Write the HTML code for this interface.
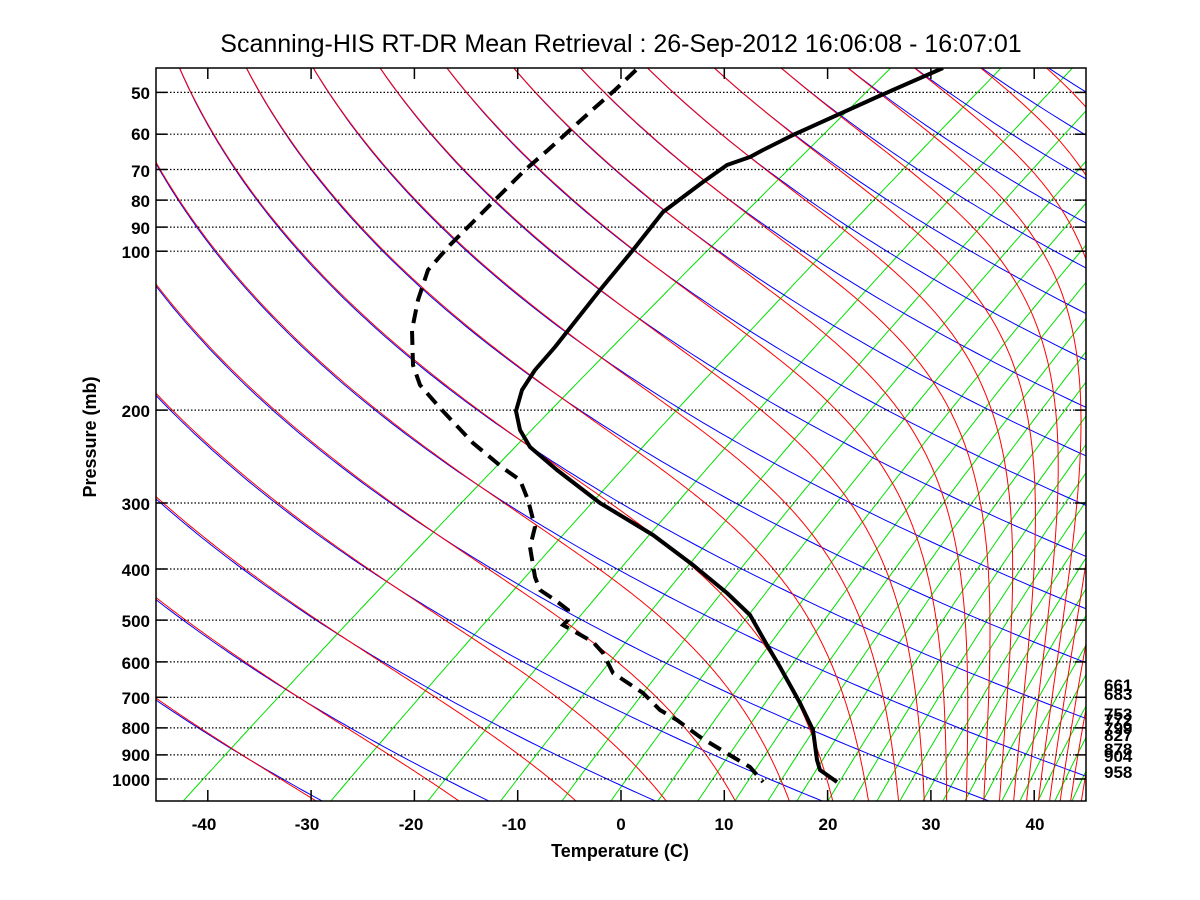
<!DOCTYPE html>
<html><head><meta charset="utf-8"><style>
html,body{margin:0;padding:0;background:#fff;}
svg{display:block;font-family:"Liberation Sans",Arial,sans-serif;}
.t{font-size:17px;font-weight:bold;fill:#000;}
</style></head><body>
<svg id="s" width="1200" height="900" viewBox="0 0 1200 900" xmlns="http://www.w3.org/2000/svg">
<defs><clipPath id="c"><rect x="156" y="68" width="930" height="733"/></clipPath></defs>
<rect width="1200" height="900" fill="#fff"/>
<g id="lines" clip-path="url(#c)"></g>
<g id="grid"></g>
<g clip-path="url(#c)">
<polyline fill="none" stroke="#000" stroke-width="4" stroke-linejoin="round" points="943,68 877,97 793,135 763,150 750,157 727,165 703,182 663,212 633,250 600,290 555,347 535,370 522,390 516,411 520,430 530,447 557,470 600,503 653,535 693,565 727,593 750,615 767,645 780,667 800,703 813,730 817,760 820,770 837,782"/>
<polyline fill="none" stroke="#000" stroke-width="4" stroke-dasharray="14,8" points="636,70 615,90 590,112 570,130 548,150 525,170 500,195 475,220 450,245 428,270 418,300 412,330 413,365 420,385 440,408 473,443 503,468 520,480 528,500 535,527 530,547 535,577 540,590 555,600 568,610 568,620 563,625 593,642 603,653 613,673 643,693 660,710 677,720 700,737 733,757 750,767 763,782"/>
</g>
<rect x="156" y="68" width="930" height="733" fill="none" stroke="#000" stroke-width="1.5"/>
<text x="621" y="52" text-anchor="middle" font-size="25" fill="#000">Scanning-HIS RT-DR Mean Retrieval : 26-Sep-2012 16:06:08 - 16:07:01</text>
<g class="t" text-anchor="end">
<text x="150" y="99">50</text><text x="150" y="140">60</text><text x="150" y="177">70</text><text x="150" y="207">80</text><text x="150" y="234">90</text><text x="150" y="258">100</text><text x="150" y="417">200</text><text x="150" y="510">300</text><text x="150" y="576">400</text><text x="150" y="627">500</text><text x="150" y="669">600</text><text x="150" y="704">700</text><text x="150" y="734">800</text><text x="150" y="761">900</text><text x="150" y="786">1000</text>
</g>
<g class="t" text-anchor="middle">
<text x="204" y="830">-40</text><text x="307" y="830">-30</text><text x="411" y="830">-20</text><text x="514" y="830">-10</text><text x="621" y="830">0</text><text x="724" y="830">10</text><text x="828" y="830">20</text><text x="931" y="830">30</text><text x="1035" y="830">40</text>
<text x="620" y="857" font-size="18">Temperature (C)</text>
<text transform="translate(96,437) rotate(-90)" font-size="18">Pressure (mb)</text>
</g>
<g class="t" font-size="17">
<text x="1104" y="691">661</text><text x="1104" y="700">683</text><text x="1104" y="720">753</text><text x="1104" y="726">772</text><text x="1104" y="734">799</text><text x="1104" y="741">827</text><text x="1104" y="755">878</text><text x="1104" y="762">904</text><text x="1104" y="778">958</text>
</g>
</svg>
<script>
(function(){
var NS="http://www.w3.org/2000/svg";
var S=308;
function Y(p){return 779-229.2*Math.log(1000/p);}
function X(T,p){return 621+10.33*T+S*Math.log(1000/p);}
var L=document.getElementById("lines"),G=document.getElementById("grid");
function pl(par,pts,col,w,da){var e=document.createElementNS(NS,"polyline");e.setAttribute("points",pts.map(function(q){return q[0].toFixed(1)+","+q[1].toFixed(1);}).join(" "));e.setAttribute("fill","none");e.setAttribute("stroke",col);e.setAttribute("stroke-width",w);if(da)e.setAttribute("stroke-dasharray",da);par.appendChild(e);}
function es(T){return 6.112*Math.exp(17.67*T/(T+243.5));}
var ps=[];for(var p=1100;p>=44;p*=0.985)ps.push(p);ps.push(44);
var gx=[183.3,331,428,500.7,562,611,658,698,735,768,797,828,853,877,900,923,943,965,983,1002,1020,1038,1055,1072,1085];
gx.forEach(function(x){var T=(x-X(0,1100))/10.33;var e=es(T);var r=622*e/(1100-e);var pts=[];
ps.forEach(function(p){var ee=r*p/(622+r);var a=Math.log(ee/6.112);var Td=243.5*a/(17.67-a);pts.push([X(Td,p),Y(p)]);});
pl(L,pts,"#00e000",1);});
for(var n=-3;n!==25;n++){var th=240.4+15.7*n;var pts=[];ps.forEach(function(p){var T=th*Math.pow(p/1000,0.2857)-273.15;pts.push([X(T,p),Y(p)]);});pl(L,pts,"#0000ff",1);}
for(var n2=-3;n2!==25;n2++){var th2=240.4+15.7*n2;
var pp=44,T=th2*Math.pow(pp/1000,0.2857),pts2=[[X(T-273.15,pp),Y(pp)]],k=0;
while(1100>pp){var Tc=T-273.15;var e=es(Tc);var rs=0.622*e/(pp-e);
var g=(287*T+2.5e6*rs)/(1004+2.5e6*2.5e6*rs*0.622/(287*T*T))/pp;T+=g*0.5;pp+=0.5;k++;
if(k%6==0||pp==1100)pts2.push([X(T-273.15,pp),Y(pp)]);}
pl(L,pts2,"#ff0000",1);}
[50,60,70,80,90,100,200,300,400,500,600,700,800,900,1000].forEach(function(p){var y=Y(p);
pl(G,[[156,y],[1086,y]],"#000",1.2,"1.5,2");pl(G,[[156,y],[167,y]],"#000",1.5);pl(G,[[1075,y],[1086,y]],"#000",1.5);});
for(var t=-40;t!==50;t+=10){var x=621+10.33*t;pl(G,[[x,801],[x,790]],"#000",1.5);pl(G,[[x,68],[x,79]],"#000",1.5);}
})();
</script>
</body></html>
